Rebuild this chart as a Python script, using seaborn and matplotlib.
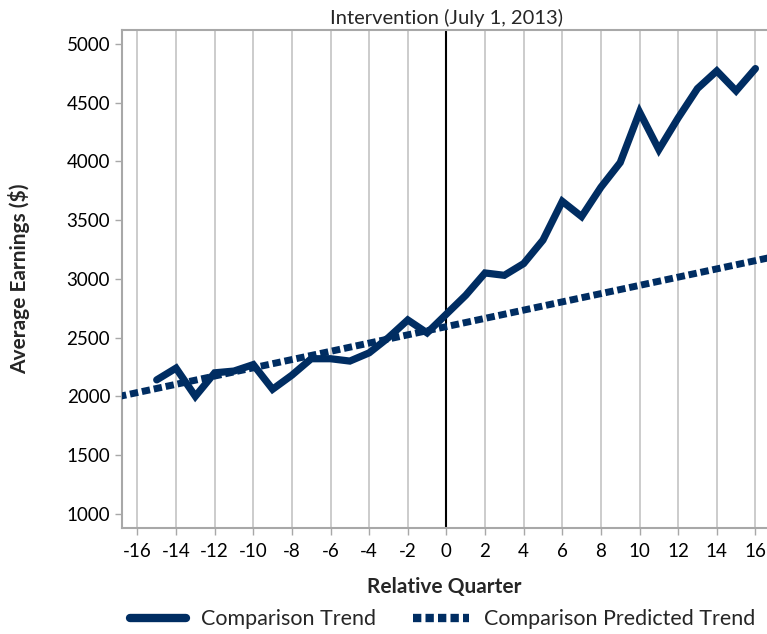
import numpy as np
import pandas as pd
import matplotlib
matplotlib.use("Agg")
import matplotlib.pyplot as plt
import seaborn as sns
from matplotlib.lines import Line2D

# Values
quarters = list(range(-15, 17))
earnings = [2140, 2240, 2000, 2200, 2215, 2270, 2060, 2180, 2320, 2320,
            2300, 2370, 2500, 2650, 2540, 2700, 2860, 3050, 3030, 3130,
            3330, 3660, 3530, 3780, 3990, 4420, 4100, 4370, 4620, 4770,
            4600, 4790]
pred_quarters = [-17, 17]
pred_earnings = [1997, 3190]
x_ticks = list(range(-16, 17, 2))
y_ticks = list(range(1000, 5001, 500))

navy = "#002d62"
grid_gray = "#c4c4c4"
spine_gray = "#a8a8a8"

sns.set_theme(style="white")
plt.rcParams['font.family'] = ['Lato', 'DejaVu Sans']

df = pd.DataFrame({"quarter": quarters, "earnings": earnings})
pred = pd.DataFrame({"quarter": pred_quarters, "earnings": pred_earnings})

fig = plt.figure(figsize=(7.67, 6.34), dpi=100)
ax = fig.add_axes([0.159, 0.167, 0.841, 0.786])

for t in x_ticks:
    ax.axvline(t, color=grid_gray, lw=1.2, zorder=0)
ax.axvline(0, color="black", lw=1.5, zorder=1)

sns.lineplot(data=pred, x="quarter", y="earnings", ax=ax, color=navy,
             lw=5, linestyle=(0, (1.2, 0.55)), zorder=3)
sns.lineplot(data=df, x="quarter", y="earnings", ax=ax, color=navy,
             lw=5.2, zorder=4, solid_capstyle="round", solid_joinstyle="miter")
ax.lines[-2].set_dash_capstyle("butt")

ax.set_xlim(-16.8, 16.6)
ax.set_ylim(878, 5120)
ax.set_xticks(x_ticks)
ax.set_xticklabels([str(t) for t in x_ticks])
ax.set_yticks(y_ticks)
ax.tick_params(axis="both", labelsize=13.5, colors=spine_gray, labelcolor="black",
               length=5, width=1, direction="out", bottom=True, left=True)
ax.tick_params(axis="x", pad=6)

for s in ["left", "bottom", "top"]:
    ax.spines[s].set_color(spine_gray)
    ax.spines[s].set_linewidth(1.5)
ax.spines["right"].set_visible(False)

ax.set_xlabel("Relative Quarter", fontsize=15, fontweight="bold", labelpad=12)
ax.set_ylabel("Average Earnings ($)", fontsize=15, fontweight="bold", labelpad=26)
ax.text(0, 1.006, "Intervention (July 1, 2013)", transform=ax.get_xaxis_transform(),
        ha="center", va="bottom", fontsize=14.5)

handles = [
    Line2D([0], [0], color=navy, lw=6, solid_capstyle="round"),
    Line2D([0], [0], color=navy, lw=6, linestyle=(0, (1.0, 0.5)), dash_capstyle="butt"),
]
fig.legend(handles, ["Comparison Trend", "Comparison Predicted Trend"],
           loc="center", bbox_to_anchor=(0.577, 0.023), ncol=2, frameon=False,
           fontsize=15.5, handlelength=2.6, columnspacing=1.75, handletextpad=0.7)

fig.savefig("out.png", dpi=100)
